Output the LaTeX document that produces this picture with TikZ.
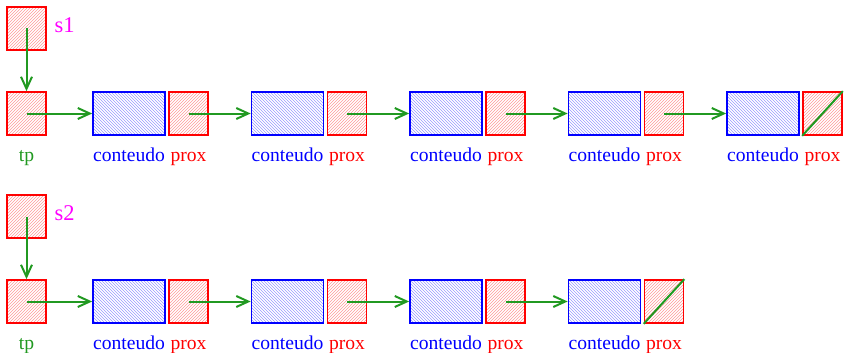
\documentclass[tikz,border=0pt]{standalone}
\usepackage{fontspec}
\setmainfont{Liberation Serif}
\newfontfamily\lserif{Liberation Serif}
\usetikzlibrary{patterns,arrows.meta}
\definecolor{linkgreen}{rgb}{0.13,0.6,0.13}
\definecolor{mag}{rgb}{1,0,1}
\tikzset{
 ptrbox/.style={draw=red, line width=1.7pt, pattern=north east lines, pattern color=red!40, minimum width=39pt, minimum height=43pt, inner sep=0pt},
 databox/.style={draw=blue, line width=1.7pt, pattern=north west lines, pattern color=blue!40, minimum width=72pt, minimum height=43pt, inner sep=0pt},
 link/.style={draw=linkgreen, line width=2pt, -{Straight Barb[length=12pt,width=11pt,line width=2pt]}},
 nil/.style={draw=linkgreen, line width=2pt},
 lbl/.style={font=\lserif\fontsize{19.6}{22}\selectfont, anchor=base, inner sep=0pt},
 slbl/.style={font=\lserif\fontsize{22.5}{24}\selectfont, anchor=base west, inner sep=0pt}
}
\begin{document}
\begin{tikzpicture}[x=1pt,y=-1pt]
\useasboundingbox (0,0) rectangle (844,353);
\foreach \r/\oy/\n/\lab in {1/0/5/s1, 2/188/4/s2}{
  \node[ptrbox] (s\r) at (26.5, 28.5+\oy) {};
  \node[slbl, text=mag] (sl\r) at (54.5, 32.5+\oy) {\lab};
  \node[ptrbox] (tp\r) at (26.5, 113.5+\oy) {};
  \node[lbl, text=linkgreen] (tpl\r) at (26.5, 161+\oy) {tp};
  \draw[link] (s\r.center) -- (tp\r.north);
  \foreach \i in {1,...,\n}{
    \pgfmathsetmacro\xc{129+158.5*(\i-1)}
    \pgfmathsetmacro\xp{188.5+158.5*(\i-1)}
    \node[databox] (c\r-\i) at (\xc, 113.5+\oy) {};
    \node[ptrbox] (p\r-\i) at (\xp, 113.5+\oy) {};
    \node[lbl, text=blue] (cl\r-\i) at (\xc, 161+\oy) {conteudo};
    \node[lbl, text=red] (pl\r-\i) at (\xp, 161+\oy) {prox};
  }
  \draw[link] (tp\r.center) -- (c\r-1.west);
  \pgfmathtruncatemacro\m{\n-1}
  \foreach \i [evaluate=\i as \j using int(\i+1)] in {1,...,\m}{
    \draw[link] (p\r-\i.center) -- (c\r-\j.west);
  }
  \draw[nil] (p\r-\n.south west) -- (p\r-\n.north east);
}
\end{tikzpicture}
\end{document}
